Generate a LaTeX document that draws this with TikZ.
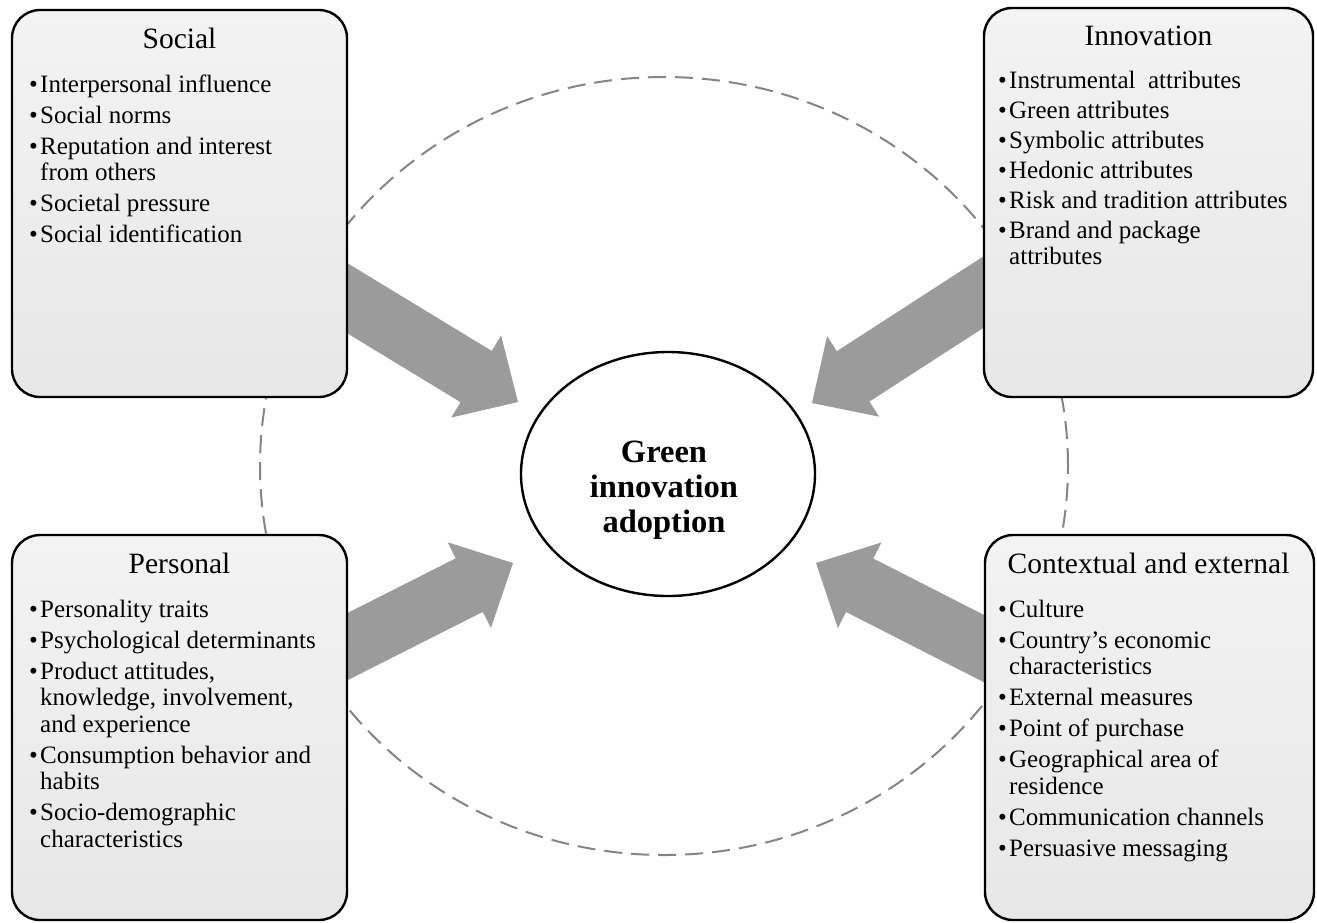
\documentclass[tikz,border=0pt]{standalone}
\usepackage{fontspec}
\setmainfont{Liberation Serif}
\usetikzlibrary{shapes.geometric}
\definecolor{arrowgray}{HTML}{9B9B9B}
\definecolor{dashgray}{HTML}{858585}
\definecolor{boxtop}{HTML}{F3F3F3}
\definecolor{boxbot}{HTML}{E7E7E7}
\newcommand{\itm}{\makebox[11pt][l]{\fontsize{25}{25}\selectfont\raisebox{0pt}{•}}}
\newcommand{\cnt}{\hspace*{11pt}}
\newcommand{\fatarrow}[2]{\fill[arrowgray, shift={(#1)}, rotate=#2] (0,0) -- (-49,48) -- (-49,30) -- (-300,30) -- (-300,-30) -- (-49,-30) -- (-49,-48) -- cycle;}
\tikzset{
  factorbox/.style={rectangle, draw=black, line width=2.4pt, rounded corners=28pt,
    top color=boxtop, bottom color=boxbot, inner sep=0pt},
  boxtitle/.style={inner sep=0pt, font=\fontsize{29.5}{32}\selectfont},
  boxlist/.style={inner sep=0pt, font=\fontsize{25}{26.5}\selectfont},
}
\begin{document}
\begin{tikzpicture}[x=1pt, y=-1pt]
\fill[white] (0,0) rectangle (1317,922);
\useasboundingbox (0,0) rectangle (1317,922);

% dashed background circle
\coordinate (mid) at (664,466);
\draw[dashgray, line width=2pt, dash pattern=on 18pt off 9pt] (mid) ellipse [x radius=404pt, y radius=389pt];

% block arrows
\coordinate (tipTL) at (518,402);
\coordinate (tipTR) at (812,403);
\coordinate (tipBL) at (513,563);
\coordinate (tipBR) at (816,563);
\fatarrow{tipTL}{-31.3}
\fatarrow{tipTR}{212.9}
\fatarrow{tipBL}{26.8}
\fatarrow{tipBR}{153}

% boxes
\node[factorbox, minimum width=335pt, minimum height=387pt] (social) at (179.5,203.5) {};
\node[factorbox, minimum width=329pt, minimum height=389pt] (innov) at (1148.5,202.5) {};
\node[factorbox, minimum width=335pt, minimum height=385pt] (personal) at (179.5,727.5) {};
\node[factorbox, minimum width=329pt, minimum height=385pt] (context) at (1149.5,727.5) {};

% titles
\node[boxtitle, anchor=base] (socialT) at (179.5,48) {Social};
\node[boxtitle, anchor=base] (innovT) at (1148.5,45) {Innovation};
\node[boxtitle, anchor=base] (personalT) at (179.5,573) {Personal};
\node[boxtitle, anchor=base] (contextT) at (1148.5,573) {Contextual and external};

% lists
\node[boxlist, anchor=base west] (socialL) at (29,92) {\begin{tabular}[t]{@{}l@{}}
\itm Interpersonal influence\\[4.5pt]
\itm Social norms\\[4.5pt]
\itm Reputation and interest\\
\cnt from others\\[4.5pt]
\itm Societal pressure\\[4.5pt]
\itm Social identification
\end{tabular}};

\node[boxlist, anchor=base west] (innovL) at (998,88) {\begin{tabular}[t]{@{}l@{}}
\itm Instrumental\ \ attributes\\[3.5pt]
\itm Green attributes\\[3.5pt]
\itm Symbolic\ attributes\\[3.5pt]
\itm Hedonic attributes\\[3.5pt]
\itm Risk and tradition\ attributes\\[3.5pt]
\itm Brand and package\\
\cnt attributes
\end{tabular}};

\node[boxlist, anchor=base west] (personalL) at (29,617) {\begin{tabular}[t]{@{}l@{}}
\itm Personality\ traits\\[4.5pt]
\itm Psychological\ determinants\\[4.5pt]
\itm Product attitudes,\\
\cnt knowledge,\ involvement,\\
\cnt and experience\\[4.5pt]
\itm Consumption behavior and\\
\cnt habits\\[4.5pt]
\itm Socio-demographic\\
\cnt characteristics
\end{tabular}};

\node[boxlist, anchor=base west] (contextL) at (998,617) {\begin{tabular}[t]{@{}l@{}}
\itm Culture\\[4.5pt]
\itm Country’s economic\\
\cnt characteristics\\[4.5pt]
\itm External\ measures\\[4.5pt]
\itm Point of purchase\\[4.5pt]
\itm Geographical\ area of\\
\cnt residence\\[4.5pt]
\itm Communication\ channels\\[4.5pt]
\itm Persuasive messaging
\end{tabular}};

% centre
\node[draw=black, ellipse, line width=2.4pt, fill=white, minimum width=294pt, minimum height=244pt] (gia) at (668,474) {};
\node[inner sep=0pt, anchor=base, font=\bfseries\fontsize{32.5}{35}\selectfont] (giaT) at (664,462)
  {\begin{tabular}[t]{@{}c@{}}Green\\innovation\\adoption\end{tabular}};
\end{tikzpicture}
\end{document}
